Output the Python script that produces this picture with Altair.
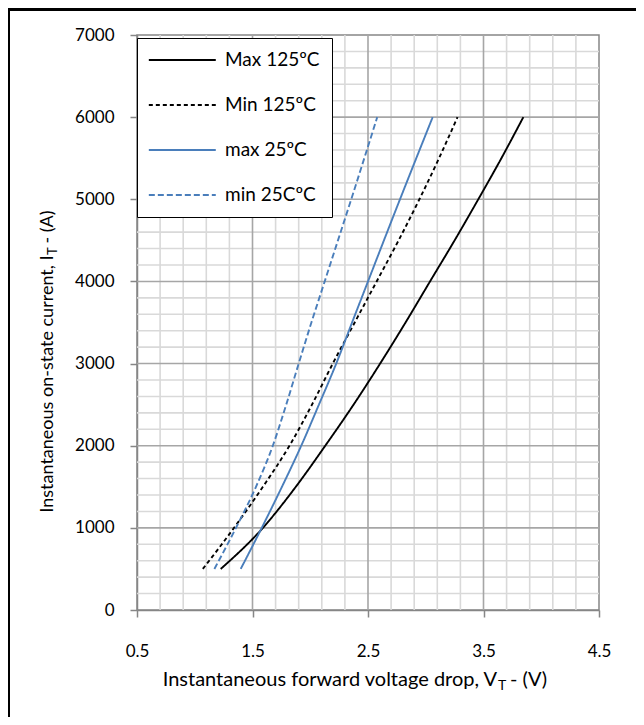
import altair as alt
import pandas as pd

# ---- data ----
current_a = [500, 1000, 1500, 2000, 2500, 3000, 3500, 4000, 4500, 5000, 5500, 6000]
v_max125 = [1.225, 1.59, 1.875, 2.13, 2.375, 2.605, 2.825, 3.037, 3.25, 3.455, 3.655, 3.845]
v_min125 = [1.07, 1.34, 1.59, 1.82, 2.015, 2.195, 2.385, 2.575, 2.765, 2.945, 3.115, 3.275]
v_max25 = [1.398, 1.58, 1.755, 1.922, 2.075, 2.225, 2.362, 2.5, 2.638, 2.777, 2.918, 3.06]
v_min25 = [1.17, 1.357, 1.53, 1.676, 1.792, 1.9, 2.01, 2.125, 2.24, 2.355, 2.468, 2.58]
series_names = ["Max 125ºC", "Min 125ºC", "max 25ºC", "min 25CºC"]
series_colors = ["#000000", "#000000", "#4a7ebb", "#4a7ebb"]
series_dashes = [[1, 0], [4, 3], [1, 0], [6, 3]]

x_major = [0.5, 1.5, 2.5, 3.5, 4.5]
y_major = [0, 1000, 2000, 3000, 4000, 5000, 6000, 7000]
x_major_grid = [1.5, 2.5, 3.5]
x_minor_grid = [0.7, 0.9, 1.1, 1.3, 1.7, 1.9, 2.1, 2.3, 2.7, 2.9, 3.1, 3.3, 3.7, 3.9, 4.1, 4.3]
y_major_grid = [1000, 2000, 3000, 4000, 5000, 6000]
y_minor_grid = [200, 400, 600, 800, 1200, 1400, 1600, 1800, 2200, 2400, 2600, 2800,
                3200, 3400, 3600, 3800, 4200, 4400, 4600, 4800, 5200, 5400, 5600, 5800,
                6200, 6400, 6600, 6800]

rows = []
for name, vals in zip(series_names, [v_max125, v_min125, v_max25, v_min25]):
    for i_a, v in zip(current_a, vals):
        rows.append({"series": name, "V": v, "I": i_a})
df = pd.DataFrame(rows)

FONT = "Lato"
GRID_MINOR = "#d9d9d9"
GRID_MAJOR = "#a6a6a6"
AXIS_GRAY = "#868686"

XS = alt.Scale(domain=[0.5, 4.5], nice=False, zero=False)
YS = alt.Scale(domain=[0, 7000], nice=False, zero=False)
x_axis = alt.Axis(values=x_major, title=None, grid=False, format=".1f",
                  labelFont=FONT, labelFontSize=17, labelColor="#000000",
                  labelPadding=26, tickSize=7, tickColor=AXIS_GRAY, tickWidth=1.5,
                  domainColor=AXIS_GRAY, domainWidth=1.5, labelFlush=False)
y_axis = alt.Axis(values=y_major, title=None, grid=False, format="d",
                  labelFont=FONT, labelFontSize=17, labelColor="#000000",
                  labelPadding=16, tickSize=7, tickColor=AXIS_GRAY, tickWidth=1.5,
                  domainColor=AXIS_GRAY, domainWidth=1.5, labelFlush=False)


def vrules(vals, color):
    return alt.Chart(pd.DataFrame({"gx": vals})).mark_rule(
        color=color, strokeWidth=1.6).encode(
        x=alt.X("gx:Q", scale=XS, axis=x_axis))


def hrules(vals, color):
    return alt.Chart(pd.DataFrame({"gy": vals})).mark_rule(
        color=color, strokeWidth=1.6).encode(
        y=alt.Y("gy:Q", scale=YS, axis=y_axis))


legend = alt.Legend(
    title=None, orient="none", legendX=0, legendY=3,
    symbolType="M-3.72,0L3.72,0", symbolSize=324, symbolStrokeWidth=1.8,
    symbolOffset=23.3, labelOffset=32.7, rowPadding=25, padding=12,
    labelFont=FONT, labelFontSize=19, labelColor="#000000",
    strokeColor="#000000", fillColor="#ffffff", labelLimit=300,
)

lines = alt.Chart(df).mark_line(interpolate="monotone", strokeWidth=1.9).encode(
    x=alt.X("V:Q", scale=XS, axis=x_axis),
    y=alt.Y("I:Q", scale=YS, axis=y_axis),
    color=alt.Color("series:N", scale=alt.Scale(domain=series_names, range=series_colors),
                    legend=legend),
    strokeDash=alt.StrokeDash("series:N", scale=alt.Scale(domain=series_names, range=series_dashes),
                              legend=legend),
    order=alt.Order("I:Q"),
)

one = alt.Data(values=[{"k": 1}])


def txt(text, x, y, size, align="left", angle=0, dy=0):
    return alt.Chart(one).mark_text(
        text=text, font=FONT, fontSize=size, align=align, baseline="alphabetic",
        angle=angle, dy=dy, color="#000000").encode(x=alt.value(x), y=alt.value(y))


# x-axis title with subscript T
xt1 = txt("Instantaneous forward voltage drop, V", 360, 651, 20, align="right")
xt2 = txt("T", 361, 651, 14, dy=4)
xt3 = txt("- (V)", 373, 651, 20)
# y-axis title with subscript T (rotated)
yt1 = txt("Instantaneous on-state current, I", -84, 220.5, 18, align="right", angle=270)
yt2 = txt("T", -84, 220, 13, angle=270, dy=4)
yt3 = txt("- (A)", -84, 208.5, 18, angle=270)

# outer frame edges (left and top) of the figure box
frame_left = alt.Chart(one).mark_rule(color="#000000", strokeWidth=4).encode(
    x=alt.value(-129), y=alt.value(-27), y2=alt.value(700))
frame_top = alt.Chart(one).mark_rule(color="#000000", strokeWidth=4).encode(
    y=alt.value(-26), x=alt.value(-131), x2=alt.value(520))

chart = alt.layer(
    vrules(x_minor_grid, GRID_MINOR),
    hrules(y_minor_grid, GRID_MINOR),
    vrules(x_major_grid, GRID_MAJOR),
    hrules(y_major_grid, GRID_MAJOR),
    lines,
    xt1, xt2, xt3, yt1, yt2, yt3,
    frame_left, frame_top,
).properties(
    width=462, height=575,
    autosize=alt.AutoSizeParams(type="none"),
    padding={"left": 129, "top": 27, "right": 37, "bottom": 107},
).configure(font=FONT).configure_view(
    stroke=AXIS_GRAY, strokeWidth=1.5
).resolve_scale(color="shared", strokeDash="shared")

chart.save("out.html", embed_options={"renderer": "svg", "actions": False})
